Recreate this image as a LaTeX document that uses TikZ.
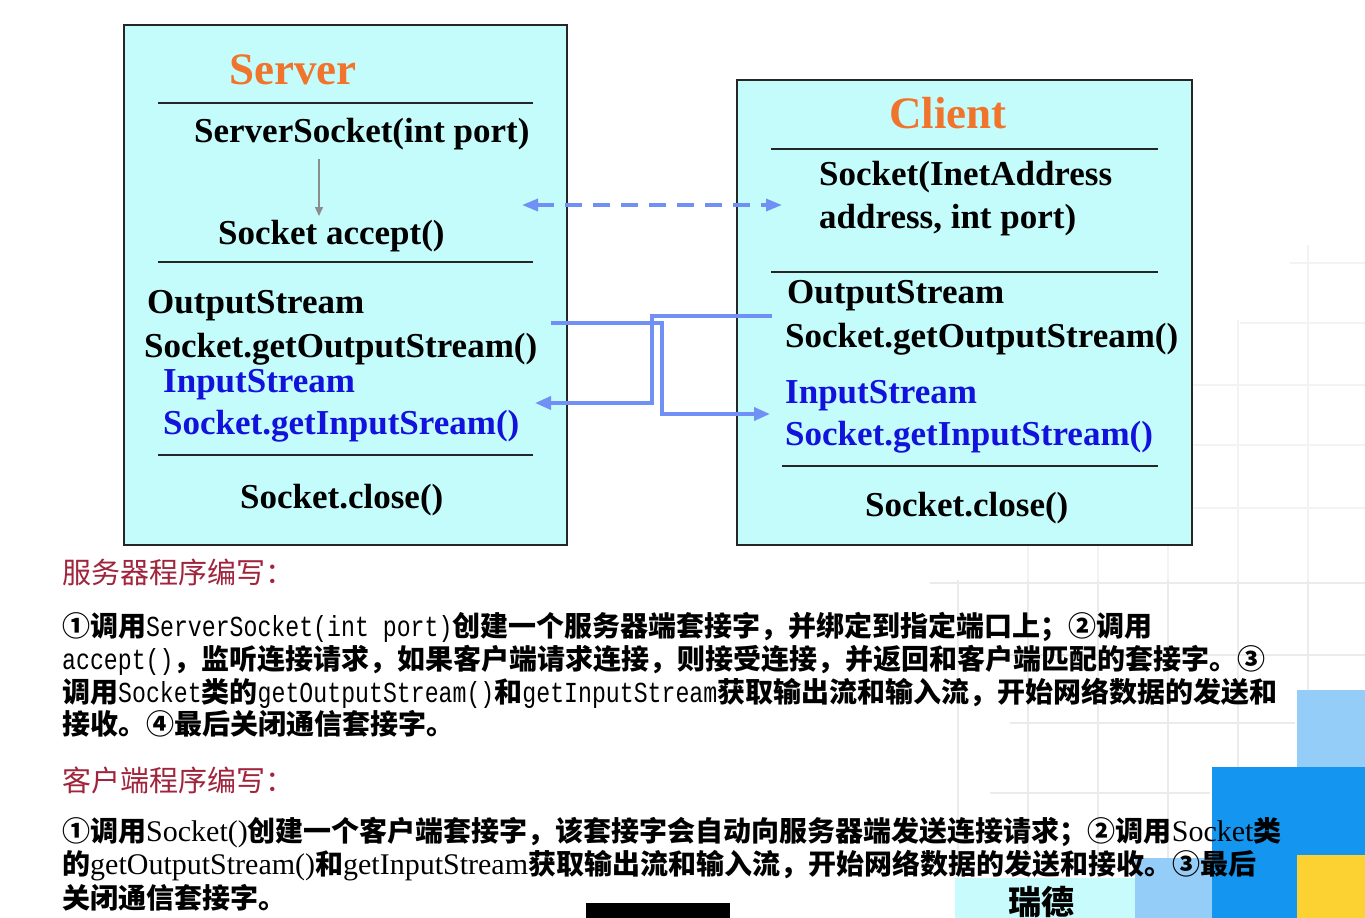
\documentclass[tikz,border=0pt]{standalone}
\usepackage{fontspec}
\setmainfont{Liberation Serif}
\newfontfamily\cjk{Noto Sans CJK SC}
\newfontfamily\monof{Liberation Mono}
\usetikzlibrary{arrows.meta}
\definecolor{boxfill}{HTML}{C4FCFC}
\definecolor{titleor}{HTML}{F0742C}
\definecolor{txtblue}{HTML}{1212DC}
\definecolor{conblue}{HTML}{7090F6}
\definecolor{headred}{HTML}{A0243C}
\definecolor{gridc}{HTML}{EBEBEB}
\definecolor{gridu}{HTML}{F3F3F3}
\definecolor{lblue}{HTML}{94CEF8}
\definecolor{dblue}{HTML}{1496F0}
\definecolor{yel}{HTML}{FCD232}
\definecolor{pcyan}{HTML}{C8FCFC}
\newcommand\mt[1]{\scalebox{0.8}[1]{\monof\mdseries\fontsize{29}{33}\selectfont #1}}
\newcommand\sr[1]{{\rmfamily\mdseries\fontsize{30}{33}\selectfont #1}}
\tikzset{
  boxframe/.style={draw=black!85, line width=1.3pt, fill=boxfill},
  sepline/.style={draw=black!85, line width=1.1pt},
  title/.style={font=\bfseries\fontsize{45}{50}\selectfont, text=titleor, inner sep=0, anchor=base west},
  mtxt/.style={font=\bfseries\fontsize{35}{40}\selectfont, inner sep=0, anchor=base west},
  btxt/.style={mtxt, text=txtblue},
  para/.style={font=\cjk\bfseries\fontsize{28}{33}\selectfont, inner sep=0, anchor=base west},
  head/.style={font=\cjk\fontsize{29}{33}\selectfont, text=headred, inner sep=0, anchor=base west},
  conn/.style={draw=conblue, line width=3.6pt, -{Triangle[length=16pt,width=13pt]}},
  gridl/.style={draw=gridc, line width=1.8pt},
  gridlu/.style={draw=gridu, line width=1.8pt},
}
\begin{document}
\begin{tikzpicture}[x=1pt,y=-1pt]
\useasboundingbox (0,0) rectangle (1365,918);
\fill[white] (0,0) rectangle (1365,918);
% faint background grid
\foreach \x/\y in {1308/245,1238/320,1168/380,1098/450,1028/520,958/590}
  \draw[gridlu] (\x,\y) -- (\x,580);
\foreach \x in {1308,1238,1168,1098,1028,958}
  \draw[gridl] (\x,580) -- (\x,918);
\foreach \a/\y/\b in {1290/263/1365,1240/323/1365,1190/385/1365,1130/445/1365,1080/508/1365}
  \draw[gridlu] (\a,\y) -- (\b,\y);
\foreach \a/\y/\b in {930/583/1365,1000/655/1365,1010/723/1295,990/793/1210}
  \draw[gridl] (\a,\y) -- (\b,\y);
% coloured blocks
\fill[lblue] (1297,690) rectangle (1365,918);
\fill[dblue] (1212,767) rectangle (1365,918);
\fill[yel] (1297,855) rectangle (1365,918);
\fill[lblue] (1135,858) rectangle (1212,918);
\fill[pcyan] (955,878) rectangle (1135,918);
\node[font=\cjk\bfseries\fontsize{33}{35}\selectfont, inner sep=0, anchor=base west] (ruide) at (1008,914) {瑞德};
\fill[black] (586,903) rectangle (730,918);

% Server box
\draw[boxframe] (124,25) rectangle (567,545);
\node[title] (stitle) at (229,84) {Server};
\draw[sepline] (158,103) -- (533,103);
\node[mtxt] (ssock) at (194,142) {ServerSocket(int port)};
\node[mtxt] (sacc) at (218,244) {Socket accept()};
\draw[sepline] (158,262) -- (533,262);
\node[mtxt] (sout1) at (147,313) {OutputStream};
\node[mtxt] (sout2) at (144,357) {Socket.getOutputStream()};
\node[btxt] (sin1) at (163,392) {InputStream};
\node[btxt] (sin2) at (163,434) {Socket.getInputSream()};
\draw[sepline] (158,455) -- (533,455);
\node[mtxt] (sclose) at (240,508) {Socket.close()};
\coordinate (aTop) at (319,159);
\coordinate (aBot) at (319,216);
\draw[draw=black!45, line width=1.5pt, -{Triangle[length=9pt,width=8pt]}] (aTop) -- (aBot);

% Client box
\draw[boxframe] (737,80) rectangle (1192,545);
\node[title] (ctitle) at (889,128) {Client};
\draw[sepline] (771,149) -- (1158,149);
\node[mtxt] (csock1) at (819,185) {Socket(InetAddress};
\node[mtxt] (csock2) at (819,228) {address, int port)};
\draw[sepline] (771,272) -- (1158,272);
\node[mtxt] (cout1) at (787,303) {OutputStream};
\node[mtxt] (cout2) at (785,347) {Socket.getOutputStream()};
\node[btxt] (cin1) at (785,403) {InputStream};
\node[btxt] (cin2) at (785,445) {Socket.getInputStream()};
\draw[sepline] (782,466) -- (1158,466);
\node[mtxt] (cclose) at (865,516) {Socket.close()};

% connectors
\coordinate (dL) at (522,205);
\coordinate (dR) at (782,205);
\draw[draw=conblue, line width=3.4pt, dash pattern=on 17pt off 11pt,
  {Triangle[length=16pt,width=12pt]}-{Triangle[length=16pt,width=12pt]}] (dL) -- (dR);
\coordinate (sOutEnd) at (551,323);
\coordinate (cInEnd) at (770,414);
\draw[conn] (sOutEnd) -- (662,323) -- (662,414) -- (cInEnd);
\coordinate (cOutEnd) at (772,316);
\coordinate (sInEnd) at (535,403);
\draw[conn] (cOutEnd) -- (652,316) -- (652,403) -- (sInEnd);

% bottom text
\node[head] (h1) at (62,583) {服务器程序编写：};
\node[para] (p1) at (62,636) {①调用\mt{ServerSocket(int port)}创建一个服务器端套接字，并绑定到指定端口上；②调用};
\node[para] (p2) at (62,669) {\mt{accept()}，监听连接请求，如果客户端请求连接，则接受连接，并返回和客户端匹配的套接字。③};
\node[para] (p3) at (62,702) {调用\mt{Socket}类的\mt{getOutputStream()}和\mt{getInputStream}获取输出流和输入流，开始网络数据的发送和};
\node[para] (p4) at (62,734) {接收。④最后关闭通信套接字。};
\node[head] (h2) at (62,791) {客户端程序编写：};
\node[para] (q1) at (62,841) {①调用\sr{Socket()}创建一个客户端套接字，该套接字会自动向服务器端发送连接请求；②调用\sr{Socket}类};
\node[para] (q2) at (62,874) {的\sr{getOutputStream()}和\sr{getInputStream}获取输出流和输入流，开始网络数据的发送和接收。③最后};
\node[para] (q3) at (62,908) {关闭通信套接字。};
\end{tikzpicture}
\end{document}
